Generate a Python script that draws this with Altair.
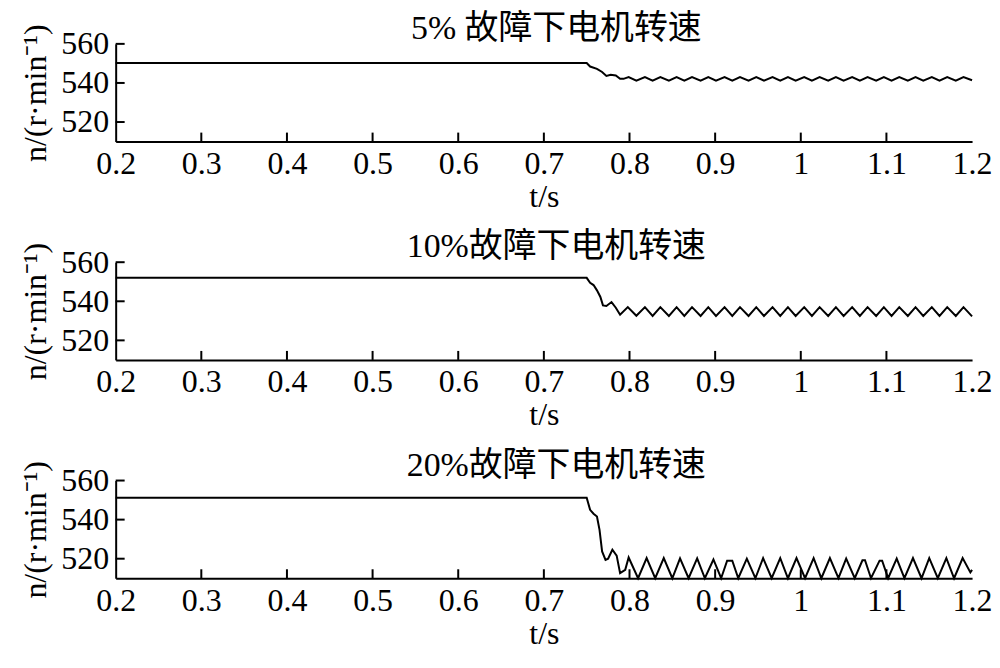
import altair as alt
import pandas as pd

# ---------------- data ----------------
X_TICKS = [0.2, 0.3, 0.4, 0.5, 0.6, 0.7, 0.8, 0.9, 1.0, 1.1, 1.2]
X_INNER_TICKS = [0.3, 0.4, 0.5, 0.6, 0.7, 0.8, 0.9, 1.0, 1.1]
Y_TICKS = [520, 540, 560]

titles = ["5% 故障下电机转速", "10%故障下电机转速", "20%故障下电机转速"]

t1 = [0.2, 0.75, 0.754, 0.762, 0.768, 0.773, 0.778, 0.784, 0.789, 0.793, 0.799,
      0.808, 0.818, 0.827, 0.836, 0.846, 0.855, 0.864, 0.873, 0.883, 0.892,
      0.901, 0.911, 0.920, 0.929, 0.939, 0.948, 0.957, 0.967, 0.976, 0.985,
      0.994, 1.004, 1.013, 1.022, 1.032, 1.041, 1.050, 1.060, 1.069, 1.078,
      1.088, 1.097, 1.106, 1.115, 1.125, 1.134, 1.143, 1.153, 1.162, 1.171,
      1.181, 1.190, 1.2]
n1 = [550.2, 550.2, 548.4, 547.2, 545.6, 543.6, 544.2, 543.8, 542.1, 542.1, 543.0,
      541.2, 543.0, 541.2, 543.0, 541.2, 543.0, 541.2, 543.0, 541.2, 543.0,
      541.2, 543.0, 541.2, 543.0, 541.2, 543.0, 541.2, 543.0, 541.2, 543.0,
      541.2, 543.0, 541.2, 543.0, 541.2, 543.0, 541.2, 543.0, 541.2, 543.0,
      541.2, 543.0, 541.2, 543.0, 541.2, 543.0, 541.2, 543.0, 541.2, 543.0,
      541.2, 543.0, 541.4]

t2 = [0.2, 0.75, 0.754, 0.758, 0.762, 0.766, 0.769, 0.773, 0.779, 0.784, 0.789, 0.798,
      0.808, 0.818, 0.827, 0.836, 0.846, 0.855, 0.864, 0.873, 0.883, 0.892,
      0.901, 0.911, 0.920, 0.929, 0.939, 0.948, 0.957, 0.967, 0.976, 0.985,
      0.994, 1.004, 1.013, 1.022, 1.032, 1.041, 1.050, 1.060, 1.069, 1.078,
      1.088, 1.097, 1.106, 1.115, 1.125, 1.134, 1.143, 1.153, 1.162, 1.171,
      1.181, 1.190, 1.2]
n2 = [552.0, 552.0, 549.5, 548.3, 545.6, 542.2, 537.9, 537.6, 539.6, 536.7, 533.1, 537.0,
      532.6, 537.0, 532.5, 537.0, 532.5, 537.0, 532.5, 537.0, 532.5, 537.0,
      532.5, 537.0, 532.5, 537.0, 532.5, 537.0, 532.5, 537.0, 532.5, 537.0,
      532.5, 537.0, 532.5, 537.0, 532.5, 537.0, 532.5, 537.0, 532.5, 537.0,
      532.5, 537.0, 532.5, 537.0, 532.5, 537.0, 532.5, 537.0, 532.5, 537.0,
      532.5, 537.0, 532.3]

t3 = [0.2, 0.75, 0.754, 0.758, 0.762, 0.765, 0.768, 0.772, 0.775, 0.780, 0.785, 0.789,
      0.795, 0.799, 0.810, 0.820, 0.830, 0.840, 0.850, 0.859, 0.869, 0.879,
      0.888, 0.898, 0.907, 0.914, 0.920, 0.927, 0.937, 0.947, 0.956, 0.966,
      0.976, 0.985, 0.995, 1.005, 1.015, 1.024, 1.034, 1.044, 1.053, 1.063,
      1.072, 1.075, 1.082, 1.092, 1.095, 1.102, 1.112, 1.121, 1.131, 1.141,
      1.150, 1.160, 1.170, 1.179, 1.189, 1.198, 1.2]
n3 = [551.2, 551.2, 545.0, 543.0, 541.6, 534.8, 523.7, 519.4, 520.0, 524.6, 521.6, 512.6,
      514.3, 520.6, 510.0, 520.3, 510.0, 520.3, 510.0, 520.2, 510.0, 520.2,
      510.0, 519.6, 510.0, 519.0, 519.0, 510.0, 520.0, 510.0, 520.3, 510.0,
      520.3, 510.0, 520.3, 510.0, 520.3, 510.0, 520.3, 510.0, 520.0, 510.0,
      519.2, 519.2, 510.0, 519.0, 519.0, 510.0, 520.0, 510.0, 520.3, 510.0,
      520.3, 510.0, 520.3, 510.0, 520.3, 513.0, 514.3]

# ---------------- chart ----------------
PLOT_W = 859
PLOT_H = 98
TICK_LEN = 9
TITLE_X = 442
SERIF = "Liberation Serif, Noto Sans CJK SC"

x_axis = alt.Axis(values=X_TICKS, format="~g", title="t/s", titlePadding=2)
y_axis = alt.Axis(values=Y_TICKS, title="n/(r·min⁻¹)", titlePadding=8)
x_scale = alt.Scale(domain=[0.2, 1.2], nice=False, zero=False)
y_scale = alt.Scale(domain=[510, 560], nice=False, zero=False)


def panel(t, n, title):
    df = pd.DataFrame({"t": t, "n": n})
    line = alt.Chart(df).mark_line(color="black", strokeWidth=2).encode(
        x=alt.X("t:Q", scale=x_scale, axis=x_axis),
        y=alt.Y("n:Q", scale=y_scale, axis=y_axis),
    )
    xt = alt.Chart(pd.DataFrame({"t": X_INNER_TICKS})).mark_rule(
        color="black", strokeWidth=2
    ).encode(
        x=alt.X("t:Q", scale=x_scale, axis=x_axis),
        y=alt.value(PLOT_H),
        y2=alt.value(PLOT_H - TICK_LEN),
    )
    yt = alt.Chart(pd.DataFrame({"n": Y_TICKS})).mark_rule(
        color="black", strokeWidth=2
    ).encode(
        y=alt.Y("n:Q", scale=y_scale, axis=y_axis),
        x=alt.value(0),
        x2=alt.value(TICK_LEN),
    )
    ttl = alt.Chart(pd.DataFrame({"label": [title]})).mark_text(
        font=SERIF, fontSize=34, color="black", align="center",
        baseline="alphabetic",
    ).encode(
        text="label:N",
        x=alt.value(TITLE_X),
        y=alt.value(-5),
    )
    return alt.layer(line, xt, yt, ttl).properties(
        width=PLOT_W,
        height=PLOT_H,
    )


chart = alt.vconcat(
    panel(t1, n1, titles[0]),
    panel(t2, n2, titles[1]),
    panel(t3, n3, titles[2]),
    spacing=18,
).properties(
    padding={"left": 12, "top": 3, "right": 0, "bottom": 0}
).configure_view(
    stroke=None
).configure_axis(
    domainColor="black",
    domainWidth=2,
    ticks=False,
    tickSize=0,
    grid=False,
    labelFont="Liberation Serif",
    labelFontSize=32,
    labelColor="black",
    labelPadding=7,
    labelFlush=False,
    titleFont="Liberation Serif",
    titleFontSize=32,
    titleFontWeight="normal",
    titleColor="black",
)

chart.save("out.html", embed_options={"renderer": "svg", "actions": False})
